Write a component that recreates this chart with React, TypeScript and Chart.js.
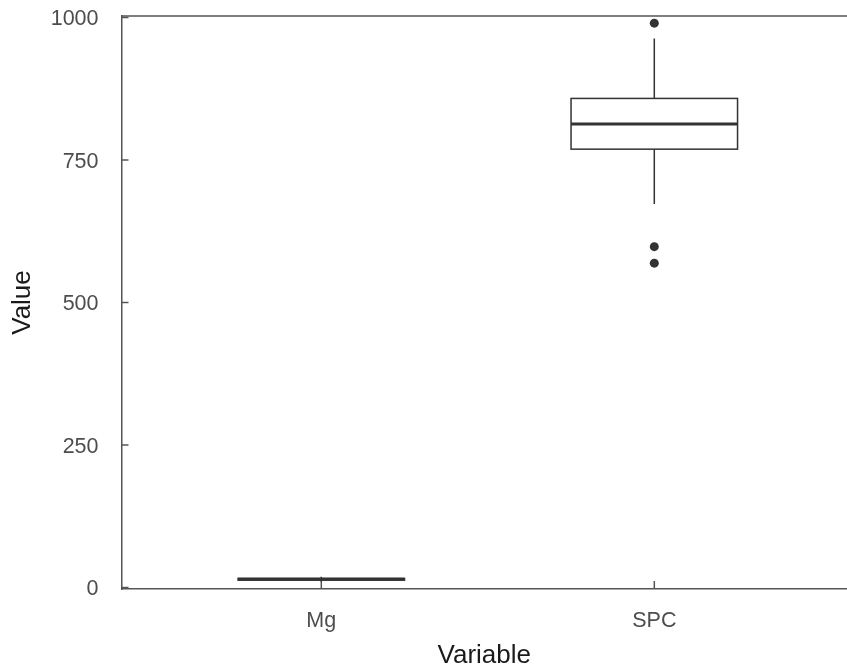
import React, { useEffect, useRef } from "react";
import { Chart, registerables } from "chart.js";

Chart.register(...registerables);

const categories = ["Mg", "SPC"];
const whiskerLow = [10, 673];
const q1 = [13, 769];
const median = [14.5, 813];
const q3 = [16, 858];
const whiskerHigh = [19, 963];
const outliers: number[][] = [[], [990, 598, 569]];
const yTicks = [0, 250, 500, 750, 1000];

const LINE = "#333333";
const AXIS = "#555555";

const boxPlugin = {
  id: "boxes",
  beforeDatasetsDraw(chart: any) {
    const { ctx, scales, chartArea } = chart;
    const x = scales.x;
    const y = scales.y;
    ctx.save();
    ctx.strokeStyle = AXIS;
    ctx.lineWidth = 1.5;
    ctx.beginPath();
    ctx.moveTo(chartArea.left, chartArea.top);
    ctx.lineTo(chartArea.right, chartArea.top);
    ctx.stroke();
    yTicks.forEach((t) => {
      const py = y.getPixelForValue(t);
      ctx.beginPath();
      ctx.moveTo(chartArea.left, py);
      ctx.lineTo(chartArea.left + 7, py);
      ctx.stroke();
    });
    categories.forEach((_, i) => {
      const px = x.getPixelForValue(i + 1);
      ctx.beginPath();
      ctx.moveTo(px, chartArea.bottom);
      ctx.lineTo(px, chartArea.bottom - 8);
      ctx.stroke();
    });
    categories.forEach((_, i) => {
      const cx = x.getPixelForValue(i + 1);
      const xl = x.getPixelForValue(i + 1 - 0.25);
      const xr = x.getPixelForValue(i + 1 + 0.25);
      const pq1 = y.getPixelForValue(q1[i]);
      const pq3 = y.getPixelForValue(q3[i]);
      const pm = y.getPixelForValue(median[i]);
      const pl = y.getPixelForValue(whiskerLow[i]);
      const ph = y.getPixelForValue(whiskerHigh[i]);
      ctx.strokeStyle = LINE;
      ctx.lineWidth = 1.5;
      ctx.beginPath();
      ctx.moveTo(cx, pq3);
      ctx.lineTo(cx, ph);
      ctx.moveTo(cx, pq1);
      ctx.lineTo(cx, pl);
      ctx.stroke();
      ctx.fillStyle = "#ffffff";
      ctx.fillRect(xl, pq3, xr - xl, pq1 - pq3);
      ctx.strokeRect(xl, pq3, xr - xl, pq1 - pq3);
      ctx.lineWidth = 3;
      ctx.beginPath();
      ctx.moveTo(xl, pm);
      ctx.lineTo(xr, pm);
      ctx.stroke();
    });
    ctx.restore();
  },
};

export default function App() {
  const ref = useRef<HTMLCanvasElement>(null);
  useEffect(() => {
    const points: { x: number; y: number }[] = [];
    outliers.forEach((arr, i) => arr.forEach((v) => points.push({ x: i + 1, y: v })));
    const chart = new Chart(ref.current!, {
      type: "scatter",
      data: {
        datasets: [
          {
            data: points,
            backgroundColor: LINE,
            borderColor: LINE,
            pointRadius: 4.5,
            borderWidth: 0,
          },
        ],
      },
      options: {
        animation: false,
        responsive: false,
        layout: { autoPadding: false, padding: { top: 16, right: 0, left: 0, bottom: 0 } },
        plugins: { legend: { display: false }, tooltip: { enabled: false } },
        scales: {
          x: {
            type: "linear",
            min: 0.4,
            max: 0.4 + (847 - 121.5) / 333,
            afterBuildTicks: (s: any) => {
              s.ticks = categories.map((_, i) => ({ value: i + 1 }));
            },
            afterFit: (s: any) => {
              s.height = 82;
              s.paddingLeft = 0;
              s.paddingRight = 0;
            },
            ticks: {
              callback: (v: any) => categories[Number(v) - 1] ?? "",
              color: "#4d4d4d",
              font: { family: "'Liberation Sans', Arial, sans-serif", size: 21.5 },
              padding: 19,
              maxRotation: 0,
            },
            grid: { display: false, drawTicks: false },
            border: { display: true, color: AXIS, width: 1.5 },
            title: {
              display: true,
              text: "Variable",
              color: "#1a1a1a",
              font: { family: "'Liberation Sans', Arial, sans-serif", size: 26 },
              padding: { top: 0, bottom: 0 },
            },
          },
          y: {
            type: "linear",
            min: -2.6,
            max: 1002.6,
            afterBuildTicks: (s: any) => {
              s.ticks = yTicks.map((v) => ({ value: v }));
            },
            afterFit: (s: any) => {
              s.width = 121.5;
              s.paddingTop = 0;
              s.paddingBottom = 0;
            },
            ticks: {
              callback: (v: any) => String(v),
              color: "#4d4d4d",
              font: { family: "'Liberation Sans', Arial, sans-serif", size: 21.5 },
              padding: 23,
              labelOffset: 2,
            },
            grid: { display: false, drawTicks: false },
            border: { display: true, color: AXIS, width: 1.5 },
            title: {
              display: true,
              text: "Value",
              color: "#1a1a1a",
              font: { family: "'Liberation Sans', Arial, sans-serif", size: 26 },
              padding: { top: 7, bottom: 0 },
            },
          },
        },
      },
      plugins: [boxPlugin],
    });
    return () => chart.destroy();
  }, []);
  return (
    <div style={{ position: "absolute", left: 0, top: 0, width: 847, height: 671, background: "#fff" }}>
      <canvas ref={ref} width={847} height={671} style={{ width: 847, height: 671, display: "block" }} />
    </div>
  );
}
